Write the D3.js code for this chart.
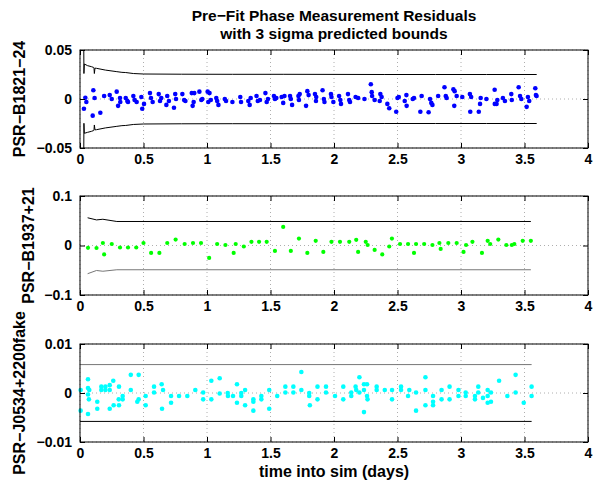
<!DOCTYPE html>
<html><head><meta charset="utf-8">
<script src="https://cdn.jsdelivr.net/npm/d3@7"></script>
<style>
body{margin:0;background:#fff;}
svg{display:block;font-family:"Liberation Sans",Arial,Helvetica,sans-serif;font-weight:bold;}
</style></head>
<body><svg id="c" width="600" height="481"></svg>
<script>
const titleLines = ["Pre\u2212Fit Phase Measurement Residuals", "with 3 sigma predicted bounds"];
const xLabel = "time into sim (days)";
const yLabels = ["PSR\u2212B1821\u221224", "PSR\u2212B1937+21", "PSR\u2212J0534+2200fake"];
const xTicks = [0, 0.5, 1, 1.5, 2, 2.5, 3, 3.5, 4];
const xTickLabels = ["0", "0.5", "1", "1.5", "2", "2.5", "3", "3.5", "4"];
const yTicks1 = [-0.05, 0, 0.05];
const yTickLabels1 = ["\u22120.05", "0", "0.05"];
const yTicks2 = [-0.1, 0, 0.1];
const yTickLabels2 = ["\u22120.1", "0", "0.1"];
const yTicks3 = [-0.01, 0, 0.01];
const yTickLabels3 = ["\u22120.01", "0", "0.01"];

// Panel 1 residuals
const t1 = [0.031,0.042,0.05,0.10,0.105,0.115,0.16,0.19,0.234,0.25,0.289,0.30,0.315,0.317,0.36,0.373,0.378,0.42,0.43,0.446,0.483,0.49,0.504,0.551,0.559,0.572,0.62,0.63,0.64,0.68,0.687,0.70,0.74,0.75,0.756,0.806,0.82,0.83,0.88,0.887,0.895,0.90,0.94,0.955,0.963,1.005,1.01,1.02,1.03,1.073,1.08,1.09,1.14,1.15,1.20,
1.262,1.268,1.325,1.336,1.344,1.39,1.40,1.417,1.46,1.47,1.48,1.527,1.535,1.546,1.588,1.60,1.61,1.654,1.66,1.67,1.72,1.724,1.73,1.78,1.79,1.80,1.85,1.858,1.86,1.91,1.92,1.925,1.976,1.98,1.995,2.04,2.05,2.055,2.11,2.12,2.126,2.17,2.19,2.24,2.29,2.297,2.30,2.32,2.36,2.365,2.375,2.42,2.435,
2.49,2.50,2.51,2.557,2.57,2.572,2.62,2.63,2.68,2.69,2.745,2.756,2.766,2.775,2.82,2.87,2.88,2.887,2.94,2.947,2.95,2.966,3.01,3.07,3.073,3.08,3.14,3.15,3.155,3.20,3.265,3.266,3.28,3.286,3.33,3.346,3.396,3.40,3.454,3.465,3.475,3.517,3.527,3.537,3.585,3.59,3.595];
const v1 = [-0.010,0.0013,-0.003,-0.017,0.009,0.001,-0.014,0.003,0.004,0.0,0.0075,-0.007,0.001,-0.003,0.001,-0.002,-0.003,0.003,-0.001,-0.003,0.002,-0.010,-0.005,0.006,0.001,-0.003,0.005,-0.002,0.001,-0.006,0.003,-0.002,-0.009,0.005,0.0,0.005,-0.001,-0.002,0.006,-0.007,-0.003,0.006,0.0075,-0.001,0,0.0075,-0.003,0.006,-0.001,0.001,-0.002,-0.006,0,-0.002,-0.003,
0.002,-0.003,-0.002,-0.006,0.001,0.003,-0.002,-0.001,0.006,-0.003,0,0.003,0,0.001,0.002,-0.004,0.003,0.003,0,-0.006,0.003,-0.001,0.005,-0.007,0.008,0.004,0.005,-0.002,0.002,0.009,0,-0.003,0.005,0.002,-0.003,0.003,-0.001,-0.005,0.005,-0.001,-0.003,0.002,0.001,0,0.015,0.007,0.003,-0.001,-0.002,0.005,0.002,-0.005,-0.0095,
-0.013,0.001,0.002,-0.002,0.004,-0.007,0,0.001,-0.013,0.003,-0.0135,0,-0.004,-0.006,0.003,0.012,0.003,0.001,0.010,-0.007,0.008,0.003,0.002,0.005,-0.013,0.002,-0.013,-0.005,0.001,0,0.0095,-0.005,-0.005,-0.001,0.001,-0.002,0.005,-0.001,0.012,0.003,0,-0.008,0.002,-0.002,0.011,0.004,0.003];
const bT1 = [0.028,0.031,0.034,0.06,0.09,0.105,0.11,0.113,0.118,0.13,0.2,0.29,0.33,0.36,0.42,0.5,0.8,1.2,1.6,2.0,2.4,2.8,3.2,3.596];
const bU1 = [0.09,0.026,0.0357,0.034,0.033,0.0323,0.032,0.026,0.0315,0.0313,0.0295,0.0279,0.0272,0.027,0.026,0.0255,0.0253,0.0252,0.0252,0.0251,0.025,0.025,0.025,0.025];
const bL1 = [-0.09,-0.0248,-0.035,-0.034,-0.033,-0.0323,-0.032,-0.0265,-0.0315,-0.0313,-0.0295,-0.0279,-0.0272,-0.027,-0.026,-0.0255,-0.0253,-0.0252,-0.0252,-0.0251,-0.025,-0.025,-0.025,-0.025];

// Panel 2 residuals
const t2 = [0.063,0.13,0.18,0.19,0.25,0.315,0.378,0.443,0.50,0.56,0.625,0.687,0.753,0.824,0.89,0.953,1.017,1.08,1.145,1.21,1.226,1.29,1.35,1.41,1.47,1.535,1.60,1.66,1.724,1.79,1.856,1.916,1.98,2.047,2.12,2.175,2.19,2.25,2.265,2.32,2.38,2.435,2.456,2.52,2.583,2.63,2.646,2.71,2.775,2.83,2.84,2.90,2.966,3.02,3.04,3.09,3.165,3.21,3.23,3.294,3.357,3.40,3.42,3.486,3.55];
const v2 = [-0.0046,-0.005,0.005,-0.018,0.003,-0.004,-0.004,-0.004,0.005,-0.015,-0.015,0.005,0.012,0.003,0.005,0.005,-0.025,0.003,0.001,-0.015,0.003,-0.002,0.0075,0.0075,0.0075,-0.011,0.0375,-0.011,0.014,-0.015,0.0095,-0.013,0.0075,0.0075,0.0075,0.0115,-0.013,0.0075,0.001,-0.009,-0.018,-0.002,0.014,0.003,0.003,-0.015,0.003,0.003,0.001,0.005,-0.007,0.005,0.005,-0.013,0.001,0.0075,-0.015,0.0095,0.003,0.012,0.001,0.001,0.003,0.0095,0.0095];
const bT2 = [0.06,0.13,0.18,0.29,3.55];
const bU2 = [0.056,0.0517,0.053,0.0485,0.0485];
const bL2 = [-0.057,-0.0505,-0.052,-0.049,-0.049];

// Panel 3 residuals
const t3 = [0.005,0.005,0.063,0.063,0.073,0.063,0.07,0.063,0.136,0.136,0.168,0.168,0.2,0.2,0.234,0.234,0.234,0.262,0.265,0.307,0.305,0.307,0.336,0.336,0.40,0.40,0.462,0.451,0.462,0.517,0.517,0.583,0.583,0.643,0.654,0.646,0.717,0.717,0.78,0.845,0.908,0.97,0.97,1.034,1.034,1.10,1.10,1.163,1.165,1.205,1.236,1.236,1.27,1.27,1.30,1.30,1.365,1.365,1.365,1.428,1.428,1.49,1.49,1.553,1.617,1.617,1.68,1.68,1.743,1.743,1.805,1.805,1.81,1.87,1.87,
1.937,1.937,2.008,2.073,2.073,2.136,2.136,2.17,2.175,2.20,2.20,2.236,2.236,2.26,2.26,2.264,2.236,2.336,2.336,2.40,2.457,2.457,2.528,2.528,2.583,2.593,2.646,2.646,2.72,2.72,2.72,2.78,2.78,2.78,2.847,2.847,2.91,2.91,2.98,2.98,3.037,3.037,3.11,3.11,3.136,3.136,3.173,3.21,3.21,3.21,3.236,3.236,3.30,3.365,3.43,3.43,3.494,3.556,3.556];
const v3 = [0.0006,-0.0036,0.0028,0.001,0.0006,-0.0003,-0.0013,-0.0043,-0.0018,-0.0032,0.0013,0.0006,0.0013,0.0006,0.0016,0.0006,-0.0032,0.0025,-0.0025,0.0013,-0.0013,-0.0025,-0.0006,-0.0013,0.0037,0.0006,0.0037,-0.0018,-0.0013,-0.0006,-0.0025,0.0013,0.0001,0.0018,0.0006,-0.0032,-0.0006,-0.002,-0.0006,-0.0006,0.0006,0.0001,-0.0013,0.0025,-0.0013,0.003,-0.0001,0.0,-0.0006,-0.0006,0.0018,-0.002,0,-0.0006,0.0006,-0.0025,-0.0013,-0.0018,-0.0036,-0.0006,-0.0013,0.0006,-0.0032,-0.0006,0.0013,0.0001,0.0013,0.0001,0.0043,0.0006,0,-0.0006,-0.0025,0.0013,-0.0013,
0.0013,0.0001,-0.0006,0.0013,-0.0013,0.0001,-0.0006,0.0013,0.0006,0.0032,0.0001,0.0018,0.0006,0.0018,-0.0006,-0.0013,-0.0039,0.0013,0.0006,0.0006,0.0006,-0.0013,0.0013,0.0006,-0.0006,0.0006,0.0001,-0.0036,0.0032,0.0006,-0.0025,-0.0006,-0.0018,-0.0025,0.0006,-0.0013,0.0013,-0.0013,0.0006,-0.0006,0.0001,-0.0006,-0.0006,-0.0013,0.0013,0.0001,-0.001,0.0006,-0.0006,-0.002,0.0001,-0.0018,0.0025,-0.0006,0.0037,0.0001,-0.002,0.0013,-0.0006];
const bT3 = [0, 3.556];
const bU3 = [0.0058, 0.0058];
const bL3 = [-0.0058, -0.0058];

const panels = [
  {top:50, bottom:148, t:t1, v:v1, color:"#0000ff", r:2.3, yTicks:yTicks1, yTL:yTickLabels1, bT:bT1, bU:bU1, bL:bL1, uCol:"#000", lCol:"#000", yl:yLabels[0], ylx:24.5},
  {top:196, bottom:295, t:t2, v:v2, color:"#00ff00", r:2.1, yTicks:yTicks2, yTL:yTickLabels2, bT:bT2, bU:bU2, bL:bL2, uCol:"#000", lCol:"#777", yl:yLabels[1], ylx:33.5},
  {top:344, bottom:442, t:t3, v:v3, color:"#00ffff", r:2.3, yTicks:yTicks3, yTL:yTickLabels3, bT:bT3, bU:bU3, bL:bL3, uCol:"#777", lCol:"#000", yl:yLabels[2], ylx:25}
];
const left = 80, right = 588;
const svg = d3.select("#c");
const x = d3.scaleLinear().domain([0,4]).range([left,right]);

panels.forEach((p,i) => {
  const dom = [p.yTicks[0], p.yTicks[p.yTicks.length-1]];
  const y = d3.scaleLinear().domain(dom).range([p.bottom,p.top]);
  const g = svg.append("g");
  const cid = "clip"+i;
  svg.append("clipPath").attr("id",cid).append("rect")
    .attr("x",left).attr("y",p.top).attr("width",right-left).attr("height",p.bottom-p.top);
  // grid
  g.append("g").selectAll("line").data(xTicks).join("line")
    .attr("x1",d=>x(d)).attr("x2",d=>x(d)).attr("y1",p.top).attr("y2",p.bottom)
    .attr("stroke","#999").attr("stroke-width",0.8).attr("stroke-dasharray","1,3");
  g.append("g").selectAll("line").data(p.yTicks).join("line")
    .attr("x1",left).attr("x2",right).attr("y1",d=>y(d)).attr("y2",d=>y(d))
    .attr("stroke","#999").attr("stroke-width",0.8).attr("stroke-dasharray","1,3");
  // bounds
  const bu = p.bT.map((t,k)=>[t,p.bU[k]]);
  const bl = p.bT.map((t,k)=>[t,p.bL[k]]);
  const line = d3.line().x(d=>x(d[0])).y(d=>y(d[1]));
  g.append("path").attr("d",line(bu)).attr("fill","none").attr("stroke",p.uCol).attr("stroke-width",1).attr("clip-path",`url(#${cid})`);
  g.append("path").attr("d",line(bl)).attr("fill","none").attr("stroke",p.lCol).attr("stroke-width",1).attr("clip-path",`url(#${cid})`);
  // points
  g.append("g").selectAll("circle").data(p.t.map((t,k)=>[t,p.v[k]])).join("circle")
    .attr("cx",d=>x(d[0])).attr("cy",d=>y(d[1])).attr("r",p.r).attr("fill",p.color);
  // axes
  const ax = (gen, tr) => g.append("g").attr("transform",tr).call(gen)
     .call(s=>s.select(".domain").remove())
     .call(s=>s.selectAll("text").attr("font-size",14).attr("font-weight","bold").attr("fill","#000").attr("font-family",'"Liberation Sans",Arial,sans-serif'))
     .call(s=>s.selectAll("line").attr("stroke","#000"));
  ax(d3.axisBottom(x).tickValues(xTicks).tickFormat((d,k)=>xTickLabels[k]).tickSizeInner(-5).tickSizeOuter(0).tickPadding(6), `translate(0,${p.bottom})`);
  ax(d3.axisTop(x).tickValues(xTicks).tickFormat("").tickSizeInner(-5).tickSizeOuter(0), `translate(0,${p.top})`);
  ax(d3.axisLeft(y).tickValues(p.yTicks).tickFormat((d,k)=>p.yTL[k]).tickSizeInner(-5).tickSizeOuter(0).tickPadding(8), `translate(${left},0)`);
  ax(d3.axisRight(y).tickValues(p.yTicks).tickFormat("").tickSizeInner(-5).tickSizeOuter(0), `translate(${right},0)`);
  g.append("rect").attr("x",left).attr("y",p.top).attr("width",right-left).attr("height",p.bottom-p.top)
    .attr("fill","none").attr("stroke","#000").attr("stroke-width",1);
  // y label
  svg.append("text").attr("transform",`translate(${p.ylx},${(p.top+p.bottom)/2}) rotate(-90)`)
    .attr("text-anchor","middle").attr("font-size",16).text(p.yl);
});

svg.append("text").attr("x",(left+right)/2).attr("y",21).attr("text-anchor","middle").attr("font-size",15.5).text(titleLines[0]);
svg.append("text").attr("x",(left+right)/2).attr("y",39).attr("text-anchor","middle").attr("font-size",15.5).text(titleLines[1]);
svg.append("text").attr("x",(left+right)/2).attr("y",476.5).attr("text-anchor","middle").attr("font-size",16).text(xLabel);
</script></body></html>
